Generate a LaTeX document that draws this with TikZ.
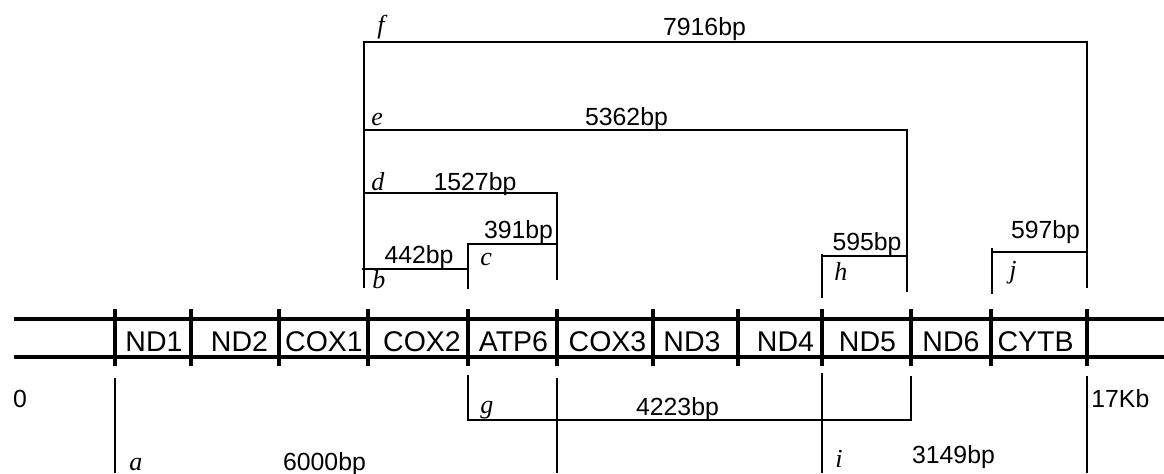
\documentclass[tikz,border=0pt]{standalone}
\usepackage{fontspec}
\setmainfont{Liberation Sans}
\newfontfamily\tagfont{Liberation Serif}

\begin{document}
\begin{tikzpicture}[x=0.5pt,y=-0.5pt,
  gene/.style={font=\fontsize{14.25}{16}\selectfont,anchor=base,inner sep=0pt},
  bp/.style={font=\fontsize{12.4}{14}\selectfont,anchor=base,inner sep=0pt},
  tag/.style={font={\tagfont\itshape\fontsize{13}{15}\selectfont},anchor=base west,inner sep=0pt},
  bar/.style={line width=2pt},
  brk/.style={line width=1pt}]
\useasboundingbox (0,0) rectangle (1164,473);
\draw[bar] (14,319) -- (1164,319) (14,357) -- (1164,357);
\foreach \x in {115,191,279,368,468,557,653,738,822,911,991,1087}
  \draw[bar] (\x,309) -- (\x,366);
\foreach \x/\g in {154/ND1,239.5/ND2,324/COX1,422/COX2,513.5/ATP6,607.5/COX3,
                   692/ND3,785.5/ND4,867.5/ND5,951/ND6,1035.5/CYTB}
  \node[gene] (\g) at (\x,351) {\g};
\draw[brk] (364,288) -- (364,42) -- (1087,42) -- (1087,288);
\draw[brk] (364,130) -- (907,130) -- (907,292);
\draw[brk] (364,193) -- (557,193) -- (557,280);
\draw[brk] (468,289) -- (468,244) -- (557,244);
\draw[brk] (362,269) -- (468,269);
\draw[brk] (822,298) -- (822,254) (822,256) -- (907,256);
\draw[brk] (992,294) -- (992,248) (992,252) -- (1087,252);
\draw[brk] (115,378) -- (115,473);
\draw[brk] (557,378) -- (557,473);
\draw[brk] (468,375) -- (468,420) -- (911,420) -- (911,376);
\draw[brk] (822,373) -- (822,473);
\draw[brk] (1087,376) -- (1087,473);
\node[tag] (tf) at (377,33) {f};
\node[tag] (te) at (371,125) {e};
\node[tag] (td) at (371,190) {d};
\node[tag] (tc) at (480,265) {c};
\node[tag] (tb) at (372,288) {b};
\node[tag] (th) at (834,280) {h};
\node[tag] (tj) at (1009,278) {j};
\node[tag] (tg) at (480,413) {g};
\node[tag] (ta) at (129,470) {a};
\node[tag] (ti) at (835,467) {i};
\node[bp] (bpf) at (704.5,35) {7916bp};
\node[bp] (bpe) at (626.5,125) {5362bp};
\node[bp] (bpd) at (475,190) {1527bp};
\node[bp] (bpc) at (518.5,238) {391bp};
\node[bp] (bpb) at (419,263) {442bp};
\node[bp] (bph) at (867,250) {595bp};
\node[bp] (bpj) at (1045.5,238) {597bp};
\node[bp] (bpg) at (677.5,415) {4223bp};
\node[bp] (bpa) at (324.5,470) {6000bp};
\node[bp] (bpi) at (953.5,463) {3149bp};
\node[bp] (zero) at (20,407) {0};
\node[bp,anchor=base west] (kb) at (1091,407) {17Kb};
\end{tikzpicture}
\end{document}
